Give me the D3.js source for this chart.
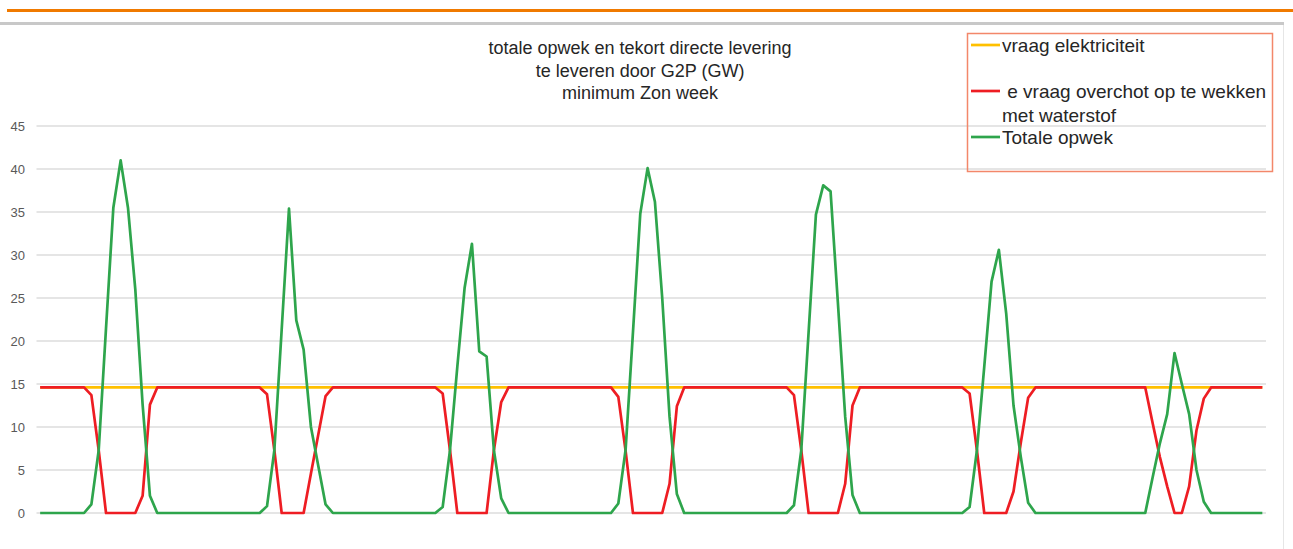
<!DOCTYPE html>
<html>
<head>
<meta charset="utf-8">
<script src="https://cdn.jsdelivr.net/npm/d3@7/dist/d3.min.js"></script>
<style>
  html, body { margin: 0; padding: 0; background: #fff; }
  svg { display: block; }
  text { font-family: "Liberation Sans", Arial, sans-serif; }
</style>
</head>
<body>
<svg id="chart" width="1293" height="549"></svg>
<script>
// Title lines
const titleLines = [
  "totale opwek en tekort directe levering",
  "te leveren door G2P (GW)",
  "minimum  Zon week"
];

// Y axis ticks (GW)
const yTicks = [0, 5, 10, 15, 20, 25, 30, 35, 40, 45];

// Series names
const seriesNames = [
  "vraag elektriciteit",
  " e vraag overchot op te wekken",
  "Totale opwek"
];
const legendExtraLine = "met waterstof";

// Hourly values for one week (168 hours), one row per day
const vraag = [
  14.6,14.6,14.6,14.6,14.6,14.6,14.6,14.6,14.6,14.6,14.6,14.6,14.6,14.6,14.6,14.6,14.6,14.6,14.6,14.6,14.6,14.6,14.6,14.6,
  14.6,14.6,14.6,14.6,14.6,14.6,14.6,14.6,14.6,14.6,14.6,14.6,14.6,14.6,14.6,14.6,14.6,14.6,14.6,14.6,14.6,14.6,14.6,14.6,
  14.6,14.6,14.6,14.6,14.6,14.6,14.6,14.6,14.6,14.6,14.6,14.6,14.6,14.6,14.6,14.6,14.6,14.6,14.6,14.6,14.6,14.6,14.6,14.6,
  14.6,14.6,14.6,14.6,14.6,14.6,14.6,14.6,14.6,14.6,14.6,14.6,14.6,14.6,14.6,14.6,14.6,14.6,14.6,14.6,14.6,14.6,14.6,14.6,
  14.6,14.6,14.6,14.6,14.6,14.6,14.6,14.6,14.6,14.6,14.6,14.6,14.6,14.6,14.6,14.6,14.6,14.6,14.6,14.6,14.6,14.6,14.6,14.6,
  14.6,14.6,14.6,14.6,14.6,14.6,14.6,14.6,14.6,14.6,14.6,14.6,14.6,14.6,14.6,14.6,14.6,14.6,14.6,14.6,14.6,14.6,14.6,14.6,
  14.6,14.6,14.6,14.6,14.6,14.6,14.6,14.6,14.6,14.6,14.6,14.6,14.6,14.6,14.6,14.6,14.6,14.6,14.6,14.6,14.6,14.6,14.6,14.6
];

const overschot = [
  14.6,14.6,14.6,14.6,14.6,14.6,14.6,13.7,7.3,0,0,0,0,0,2,12.6,14.6,14.6,14.6,14.6,14.6,14.6,14.6,14.6,
  14.6,14.6,14.6,14.6,14.6,14.6,14.6,13.8,7.3,0,0,0,0,4.6,9.1,13.6,14.6,14.6,14.6,14.6,14.6,14.6,14.6,14.6,
  14.6,14.6,14.6,14.6,14.6,14.6,14.6,13.9,7.3,0,0,0,0,0,7.3,12.9,14.6,14.6,14.6,14.6,14.6,14.6,14.6,14.6,
  14.6,14.6,14.6,14.6,14.6,14.6,14.6,13.5,7.2,0,0,0,0,0,3.4,12.4,14.6,14.6,14.6,14.6,14.6,14.6,14.6,14.6,
  14.6,14.6,14.6,14.6,14.6,14.6,14.6,13.7,7.3,0,0,0,0,0,3.4,12.5,14.6,14.6,14.6,14.6,14.6,14.6,14.6,14.6,
  14.6,14.6,14.6,14.6,14.6,14.6,14.6,13.9,7.3,0,0,0,0,2.5,8.2,13.4,14.6,14.6,14.6,14.6,14.6,14.6,14.6,14.6,
  14.6,14.6,14.6,14.6,14.6,14.6,14.6,14.6,10.5,6.5,3.1,0,0,3.1,9.6,13.3,14.6,14.6,14.6,14.6,14.6,14.6,14.6,14.6
];

const opwek = [
  0,0,0,0,0,0,0,1,7.3,21.5,35.5,41,35.5,26,12.6,2,0,0,0,0,0,0,0,0,
  0,0,0,0,0,0,0,0.8,7.3,21.3,35.4,22.4,19,10,5.5,1,0,0,0,0,0,0,0,0,
  0,0,0,0,0,0,0,0.7,7.3,17,26.2,31.3,18.8,18.2,7.3,1.7,0,0,0,0,0,0,0,0,
  0,0,0,0,0,0,0,1.1,7.4,21,34.8,40.1,36.2,25,11.2,2.2,0,0,0,0,0,0,0,0,
  0,0,0,0,0,0,0,0.9,7.3,21,34.7,38.1,37.4,24.5,11.2,2.1,0,0,0,0,0,0,0,0,
  0,0,0,0,0,0,0,0.7,7.3,17,26.9,30.6,23.2,12.5,6.5,1.2,0,0,0,0,0,0,0,0,
  0,0,0,0,0,0,0,0,4.1,8.1,11.5,18.6,15,11.5,5,1.3,0,0,0,0,0,0,0,0
];

const colors = ["#FFC000", "#EE1D23", "#2EA54C"];

const svg = d3.select("#chart");

// Page decoration: orange rule and grey frame
svg.append("line").attr("x1", 7).attr("x2", 1293).attr("y1", 10.5).attr("y2", 10.5)
  .attr("stroke", "#F07A00").attr("stroke-width", 3);
svg.append("rect").attr("x", 0).attr("y", 22).attr("width", 1284).attr("height", 3)
  .attr("fill", "#c8c8c8");
svg.append("line").attr("x1", 1283.5).attr("x2", 1283.5).attr("y1", 25).attr("y2", 549)
  .attr("stroke", "#e6e6e6").attr("stroke-width", 1);

// Scales
const hours = d3.range(vraag.length);
const x = d3.scalePoint().domain(hours).range([36.5, 1266]).padding(0.5);
const y = d3.scaleLinear().domain([0, 45]).range([513, 126]);

// Gridlines
svg.append("g").selectAll("line").data(yTicks).join("line")
  .attr("x1", 36.5).attr("x2", 1266)
  .attr("y1", d => y(d)).attr("y2", d => y(d))
  .attr("stroke", "#dcdcdc").attr("stroke-width", 1.3);

// Y axis labels
const yAxis = d3.axisLeft(y).tickValues(yTicks).tickSize(0).tickPadding(0);
const gy = svg.append("g").attr("transform", "translate(25,0)").call(yAxis);
gy.select(".domain").remove();
gy.selectAll("text").attr("fill", "#595959").style("font-size", "13px")
  .style("font-family", "'Liberation Sans', Arial, sans-serif");

// Lines
const line = d3.line().x((d, i) => x(i)).y(d => y(d));
[vraag, overschot, opwek].forEach((s, k) => {
  svg.append("path").datum(s).attr("d", line)
    .attr("fill", "none").attr("stroke", colors[k])
    .attr("stroke-width", 2.7).attr("stroke-linejoin", "round");
});

// Title
svg.append("g").selectAll("text").data(titleLines).join("text")
  .attr("x", 640).attr("y", (d, i) => 54 + i * 22.5)
  .attr("text-anchor", "middle").attr("fill", "#262626")
  .style("font-size", "18px").text(d => d);

// Legend
const lg = svg.append("g");
lg.append("rect").attr("x", 967.5).attr("y", 33.5).attr("width", 305).attr("height", 138)
  .attr("fill", "none").attr("stroke", "#F3876A").attr("stroke-width", 1.5);
const legendRows = [
  { y: 45, name: seriesNames[0], c: colors[0] },
  { y: 91, name: seriesNames[1], c: colors[1] },
  { y: 137, name: seriesNames[2], c: colors[2] }
];
legendRows.forEach(r => {
  lg.append("line").attr("x1", 971).attr("x2", 1000).attr("y1", r.y).attr("y2", r.y)
    .attr("stroke", r.c).attr("stroke-width", 2.7);
  lg.append("text").attr("x", 1002).attr("y", r.y + 6.5).attr("fill", "#262626")
    .style("font-size", "19px").style("white-space", "pre").attr("xml:space", "preserve").text(r.name);
});
lg.append("text").attr("x", 1002).attr("y", 122).attr("fill", "#262626")
  .style("font-size", "19px").text(legendExtraLine);
</script>
</body>
</html>
